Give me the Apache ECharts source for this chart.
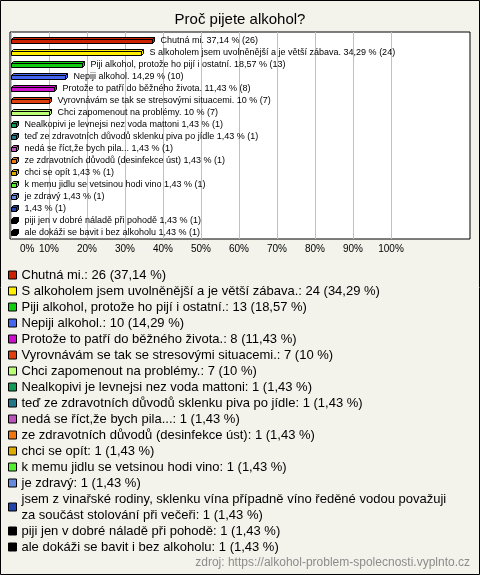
<!DOCTYPE html>
<html>
<head>
<meta charset="utf-8">
<script src="https://cdn.jsdelivr.net/npm/echarts@6/dist/echarts.min.js"></script>
<style>
html,body{margin:0;padding:0;background:#f3f3ec;}
#chart{width:480px;height:575px;}
</style>
</head>
<body>
<div id="chart"></div>
<script>
const categories = [
  "Chutná mi.",
  "S alkoholem jsem uvolněnější a je větší zábava.",
  "Piji alkohol, protože ho pijí i ostatní.",
  "Nepiji alkohol.",
  "Protože to patří do běžného života.",
  "Vyrovnávám se tak se stresovými situacemi.",
  "Chci zapomenout na problémy.",
  "Nealkopivi je levnejsi nez voda mattoni",
  "teď ze zdravotních důvodů sklenku piva po jídle",
  "nedá se říct,že bych pila...",
  "ze zdravotních důvodů (desinfekce úst)",
  "chci se opít",
  "k memu jidlu se vetsinou hodi vino",
  "je zdravý",
  "jsem z vinařské rodiny, sklenku vína případně víno ředěné vodou považuji za součást stolování při večeři",
  "piji jen v dobré náladě při pohodě",
  "ale dokáži se bavit i bez alkoholu"
];
const plotNames = [
  "Chutná mi.",
  "S alkoholem jsem uvolněnější a je větší zábava.",
  "Piji alkohol, protože ho pijí i ostatní.",
  "Nepiji alkohol.",
  "Protože to patří do běžného života.",
  "Vyrovnávám se tak se stresovými situacemi.",
  "Chci zapomenout na problémy.",
  "Nealkopivi je levnejsi nez voda mattoni",
  "teď ze zdravotních důvodů sklenku piva po jídle",
  "nedá se říct,že bych pila...",
  "ze zdravotních důvodů (desinfekce úst)",
  "chci se opít",
  "k memu jidlu se vetsinou hodi vino",
  "je zdravý",
  "",
  "piji jen v dobré náladě při pohodě",
  "ale dokáži se bavit i bez alkoholu"
];
const counts = [26, 24, 13, 10, 8, 7, 7, 1, 1, 1, 1, 1, 1, 1, 1, 1, 1];
const percents = [37.14, 34.29, 18.57, 14.29, 11.43, 10, 10, 1.43, 1.43, 1.43, 1.43, 1.43, 1.43, 1.43, 1.43, 1.43, 1.43];
const colors = ["#cc2200", "#ffee00", "#11cc11", "#4466ee", "#cc11cc", "#e04010", "#bbff77", "#119955",
                "#227788", "#bb55bb", "#ee7711", "#ddaa00", "#55ee33", "#6688dd", "#2244aa", "#000000", "#000000"];
const xTicks = [0, 10, 20, 30, 40, 50, 60, 70, 80, 90, 100];

const FONT = "'Liberation Sans', Arial, sans-serif";
const fmtPct = p => String(p).replace('.', ',');

// greedy word wrap for legend text
const measureCtx = document.createElement('canvas').getContext('2d');
function wrapText(text, fontSize, maxWidth) {
  measureCtx.font = fontSize + 'px ' + FONT;
  const words = text.split(' ');
  const lines = [];
  let cur = '';
  words.forEach(w => {
    const test = cur ? cur + ' ' + w : w;
    if (cur && measureCtx.measureText(test).width > maxWidth) {
      lines.push(cur);
      cur = w;
    } else {
      cur = test;
    }
  });
  if (cur) lines.push(cur);
  return lines.join('\n');
}

function renderBar(params, api) {
  const idx = api.value(1);
  const val = api.value(0);
  const p0 = api.coord([0, idx]);
  const p1 = api.coord([val, idx]);
  const x0 = Math.round(p0[0]) + 0.5;
  const x1 = Math.round(p1[0]) + 0.5;
  const cy = Math.round(p0[1]) + 0.5;
  const d = 2;
  const top = cy - 2, bot = cy + 2;
  const style = { fill: api.visual('color'), stroke: '#000', lineWidth: 1 };
  const i = params.seriesIndex;
  return {
    type: 'group',
    children: [
      { type: 'polygon', shape: { points: [[x0, top], [x0 + d, top - d], [x1 + d, top - d], [x1, top]] }, style: style },
      { type: 'polygon', shape: { points: [[x1, top], [x1 + d, top - d], [x1 + d, bot - d], [x1, bot]] }, style: style },
      { type: 'rect', shape: { x: x0, y: top, width: x1 - x0, height: bot - top }, style: style },
      {
        type: 'text',
        x: x1 + d + 6, y: cy - 1,
        style: {
          text: (plotNames[i] ? plotNames[i] + ' ' : '') + fmtPct(percents[i]) + ' % (' + counts[i] + ')',
          fill: '#000', font: '9px ' + FONT, verticalAlign: 'middle', align: 'left'
        }
      }
    ]
  };
}

const series = categories.map((name, i) => ({
  type: 'custom',
  name: name,
  xAxisIndex: 2,
  yAxisIndex: 2,
  color: colors[i],
  itemStyle: { color: colors[i] },
  renderItem: renderBar,
  encode: { x: 0, y: 1 },
  emphasis: { disabled: true },
  data: [[percents[i], i]]
}));

const chart = echarts.init(document.getElementById('chart'), null, { renderer: 'canvas' });
chart.setOption({
  animation: false,
  backgroundColor: '#f3f3ec',
  textStyle: { fontFamily: FONT },
  title: {
    text: 'Proč pijete alkohol?',
    left: 'center',
    top: 12,
    padding: 0,
    textStyle: { fontFamily: FONT, fontSize: 15, fontWeight: 'normal', color: '#000' }
  },
  grid: [
    { left: 10, top: 32, width: 460, height: 207, show: true, backgroundColor: '#fff', borderColor: '#000', borderWidth: 1 },
    { left: 11, top: 32, width: 380, height: 207 },
    { left: 11, top: 35, width: 380, height: 204 }
  ],
  xAxis: [
    { gridIndex: 0, type: 'value', show: false, min: 0, max: 100 },
    {
      gridIndex: 1, type: 'value', min: 0, max: 100, interval: 10,
      axisLine: { show: false }, axisTick: { show: false },
      splitLine: { show: true, lineStyle: { color: '#c0c0c0', width: 1 } },
      axisLabel: {
        fontFamily: FONT, fontSize: 10, color: '#000', margin: 5,
        alignMinLabel: 'left',
        formatter: v => v === xTicks[0] ? '{z|' + v + '%}' : v + '%',
        rich: { z: { padding: [0, 0, 0, 9], fontFamily: FONT, fontSize: 10, color: '#000' } }
      }
    },
    { gridIndex: 2, type: 'value', show: false, min: 0, max: 100 }
  ],
  yAxis: [
    { gridIndex: 0, type: 'value', show: false },
    { gridIndex: 1, type: 'value', show: false },
    { gridIndex: 2, type: 'category', data: categories, inverse: true, show: false }
  ],
  legend: {
    orient: 'vertical',
    left: 8,
    top: 267,
    padding: 0,
    itemGap: 0,
    itemWidth: 8,
    itemHeight: 8,
    icon: 'rect',
    selectedMode: false,
    data: categories,
    itemStyle: { borderColor: '#000', borderWidth: 1 },
    textStyle: { fontFamily: FONT, fontSize: 13, color: '#000', lineHeight: 16 },
    formatter: name => {
      const i = categories.indexOf(name);
      return wrapText(name + ': ' + counts[i] + ' (' + fmtPct(percents[i]) + ' %)', 13, 440);
    }
  },
  graphic: [
    {
      type: 'rect', silent: true, z: 100,
      shape: { x: 0.5, y: 0.5, width: 479, height: 574 },
      style: { fill: 'none', stroke: '#000', lineWidth: 1 }
    },
    {
      type: 'text', silent: true, x: 470, y: 563,
      style: { text: 'zdroj: https://alkohol-problem-spolecnosti.vyplnto.cz', fill: '#8c8c8c', fontFamily: FONT, fontSize: 12, align: 'right', verticalAlign: 'middle' }
    }
  ],
  series: series
});
</script>
</body>
</html>
